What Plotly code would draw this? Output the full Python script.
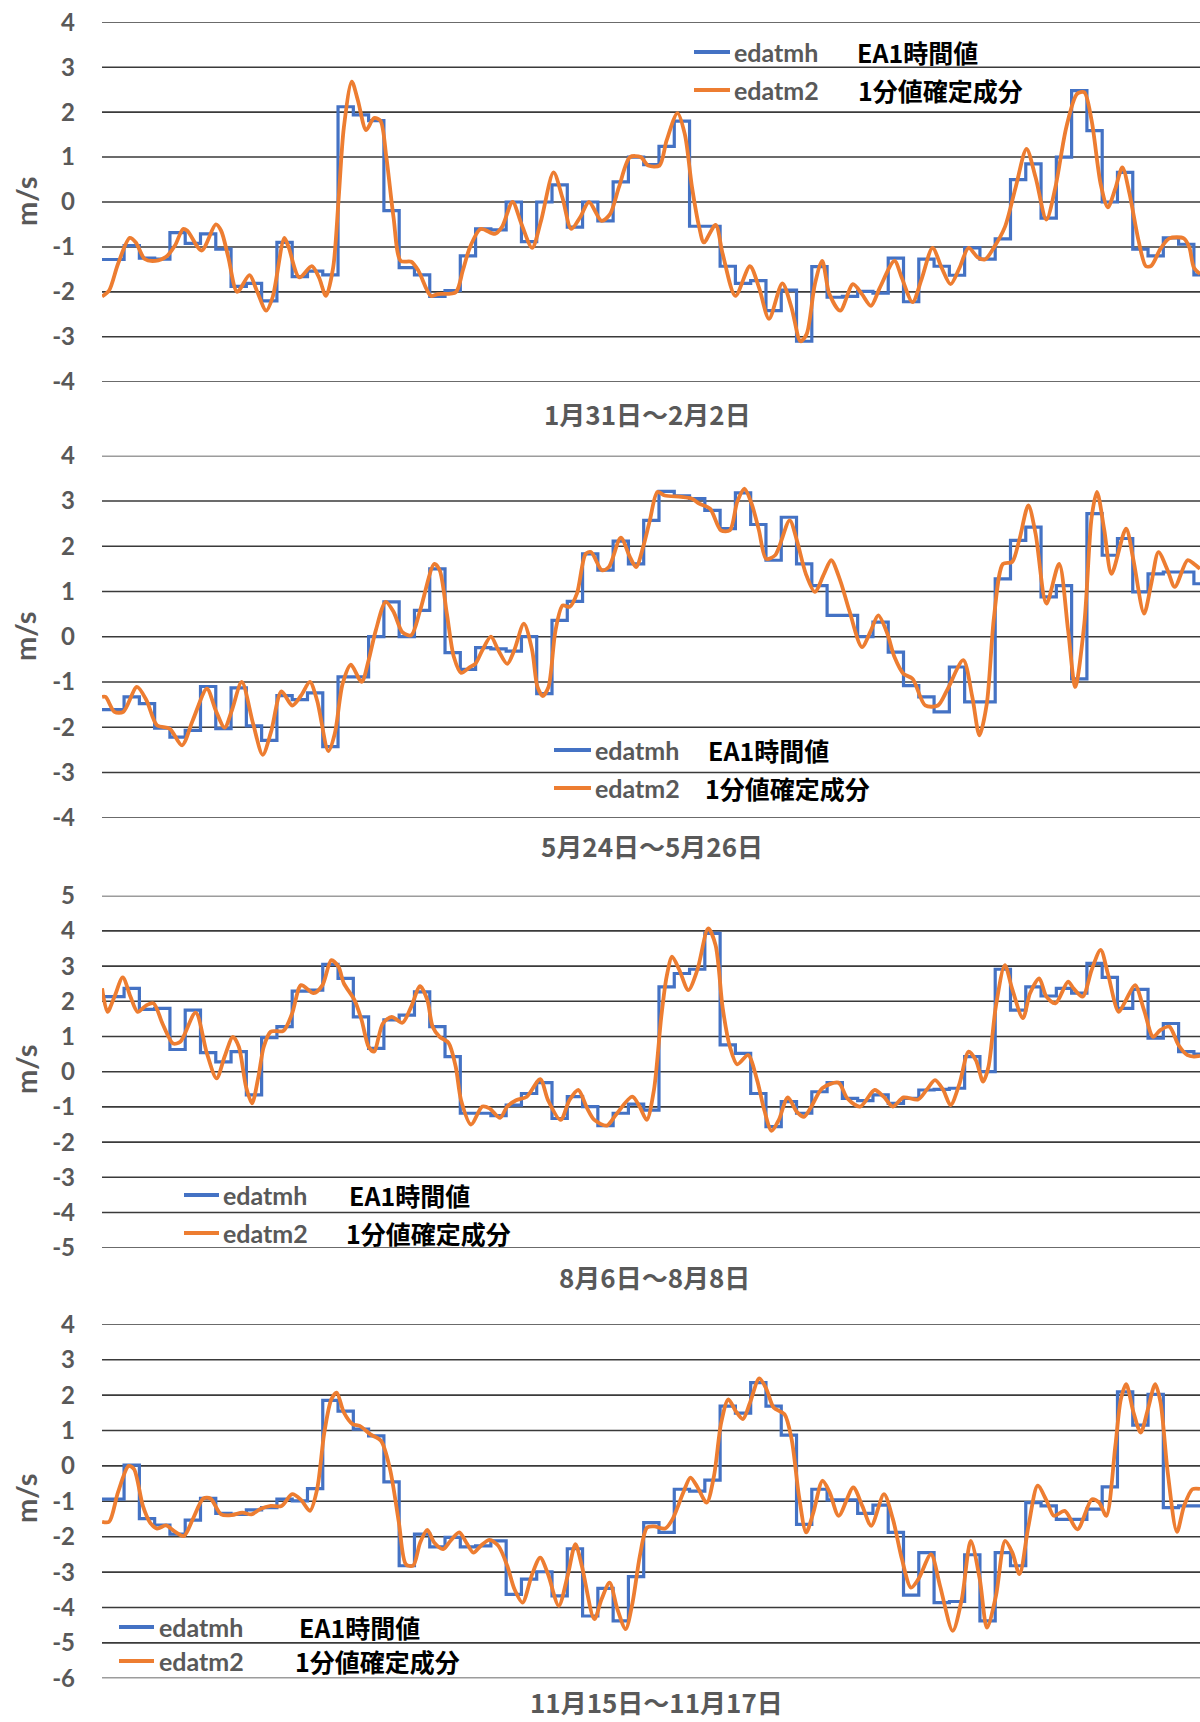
import plotly.graph_objects as go

W, H = 1200, 1722
T_START, T_END = 0.555, 72.4  # visible time window, hours

# ---------------- hourly values (EA1時間値), one per hour k = 0..72 ----------------
hourly_jan = [-1.28, -1.28, -0.97, -1.25, -1.27, -0.68, -0.92, -0.71, -1.05, -1.88,
              -1.81, -2.2, -0.9, -1.66, -1.54, -1.62, 2.12, 1.94, 1.81, -0.19,
              -1.46, -1.62, -2.1, -1.97, -1.2, -0.6, -0.62, 0.0, -0.88, 0.0,
              0.38, -0.56, 0.0, -0.42, 0.45, 1.0, 0.83, 1.24, 1.8, -0.54,
              -0.54, -1.43, -1.81, -1.75, -2.42, -1.96, -3.1, -1.44, -2.12, -2.1,
              -1.99, -2.03, -1.25, -2.22, -1.27, -1.43, -1.63, -1.02, -1.27, -0.82,
              0.5, 0.85, -0.36, 1.0, 2.48, 1.59, 0.0, 0.66, -1.05, -1.2,
              -0.8, -0.94, -1.62]
hourly_may = [-1.61, -1.61, -1.33, -1.48, -2.02, -2.22, -2.07, -1.1, -2.03, -1.13,
              -1.97, -2.29, -1.3, -1.39, -1.24, -2.43, -0.89, -0.89, 0.0, 0.77,
              0.0, 0.58, 1.5, -0.35, -0.72, -0.24, -0.27, -0.32, 0.0, -1.26,
              0.36, 0.78, 1.83, 1.47, 2.11, 1.61, 2.57, 3.21, 3.11, 3.05,
              2.79, 2.39, 3.18, 2.48, 1.69, 2.64, 1.61, 1.13, 0.47, 0.47,
              0.0, 0.32, -0.34, -1.08, -1.33, -1.66, -0.67, -1.44, -1.44, 1.28,
              2.13, 2.42, 0.88, 1.13, -0.93, 2.72, 1.8, 2.17, 0.99, 1.39,
              1.43, 1.43, 1.17]
hourly_aug = [2.13, 2.13, 2.37, 1.77, 1.8, 0.63, 1.75, 0.54, 0.28, 0.57,
              -0.66, 0.97, 1.28, 2.29, 2.32, 3.05, 2.65, 1.56, 0.66, 1.47,
              1.61, 2.27, 1.28, 0.43, -1.18, -1.18, -1.25, -0.95, -0.62, -0.31,
              -1.33, -0.71, -0.99, -1.53, -1.18, -0.92, -1.09, 2.41, 2.79, 2.91,
              3.93, 0.76, 0.52, -0.62, -1.56, -0.85, -1.18, -0.57, -0.31, -0.76,
              -0.82, -0.66, -0.9, -0.76, -0.52, -0.5, -0.47, 0.43, 0.0, 2.91,
              1.75, 2.41, 2.15, 2.37, 2.23, 3.08, 2.68, 1.8, 2.34, 0.95,
              1.37, 0.57, 0.5]
hourly_nov = [-0.94, -0.94, 0.02, -1.49, -1.67, -1.93, -1.53, -0.92, -1.34, -1.37,
              -1.24, -1.18, -0.94, -0.99, -0.64, 1.85, 1.55, 1.04, 0.85, -0.45,
              -2.82, -1.93, -2.29, -2.02, -2.29, -2.26, -2.12, -3.63, -3.2, -2.99,
              -3.67, -2.34, -4.24, -3.46, -4.38, -3.13, -1.6, -1.88, -0.66, -0.71,
              -0.4, 1.69, 1.49, 2.35, 1.69, 0.87, -1.65, -0.66, -0.96, -0.96,
              -1.34, -1.11, -1.88, -3.65, -2.45, -3.86, -3.83, -2.51, -4.38, -2.45,
              -2.82, -1.04, -1.13, -1.51, -1.51, -1.22, -0.59, 2.09, 1.15, 2.02,
              -1.18, -1.13, -1.13]

# ---------------- 1-minute confirmed component (1分値確定成分) ----------------
minute_t_jan = [0.56, 1.02, 1.6, 2.37, 2.77, 3.35, 4.05, 4.75, 5.33, 5.86, 6.14, 7.07, 8.0, 8.35,
                8.82, 9.4, 10.21, 10.68, 11.3, 11.72, 12.49, 12.77, 13.47, 14.28, 14.75, 15.21,
                15.68, 16.03, 16.38, 16.9, 17.3, 17.84, 18.35, 18.77, 19.16, 19.63, 20.1, 20.79,
                21.26, 22.07, 22.54, 23.7, 24.16, 24.63, 25.33, 26.26, 26.72, 27.42, 28.0, 28.7,
                29.28, 30.1, 30.68, 31.26, 31.84, 32.42, 33.24, 33.8, 34.38, 35.1, 35.8, 36.3,
                37.03, 37.5, 38.21, 38.69, 39.16, 39.63, 39.94, 40.7, 41.17, 42.0, 42.95, 43.54,
                44.2, 45.07, 45.67, 46.26, 46.66, 47.2, 47.68, 48.15, 48.86, 49.69, 50.28, 50.87,
                51.46, 52.41, 52.88, 53.59, 54.19, 54.9, 55.49, 56.08, 56.67, 57.26, 57.85, 58.33,
                58.92, 59.63, 60.34, 61.05, 61.64, 62.35, 62.94, 63.65, 64.36, 64.83, 65.31, 65.9,
                66.37, 66.85, 67.32, 67.79, 68.38, 68.86, 69.21, 69.8, 70.39, 71.34, 71.7, 72.0, 72.4]
minute_v_jan = [-2.1, -1.97, -1.38, -0.8, -0.9, -1.27, -1.31, -1.22, -0.97, -0.6, -0.64, -1.08, -0.5, -0.64,
                -1.23, -2.0, -1.63, -1.97, -2.42, -2.12, -0.8, -1.01, -1.68, -1.43, -1.68, -2.09,
                -1.46, 0.03, 1.66, 2.68, 2.26, 1.6, 1.87, 1.81, 1.0, -0.34, -1.31, -1.33,
                -1.53, -2.09, -2.05, -2.01, -1.53, -1.01, -0.6, -0.71, -0.56, 0.0, -0.49, -1.02,
                -0.42, 0.66, 0.1, -0.6, -0.34, 0.0, -0.42, -0.27, 0.33, 1.0, 1.0, 0.81,
                0.81, 1.37, 1.98, 1.51, 0.33, -0.56, -0.9, -0.51, -1.16, -2.09, -1.43, -1.9,
                -2.6, -1.81, -2.35, -3.1, -2.94, -1.83, -1.31, -2.05, -2.42, -1.83, -2.05, -2.31,
                -1.9, -1.31, -1.68, -2.23, -1.71, -1.02, -1.46, -1.83, -1.46, -1.02, -1.23, -1.28,
                -1.01, -0.56, 0.33, 1.18, 0.55, -0.39, 0.33, 1.66, 2.41, 2.44, 1.81, 0.4,
                -0.12, 0.29, 0.77, 0.18, -0.86, -1.43, -1.42, -1.05, -0.81, -0.81, -1.01, -1.46, -1.6]

minute_t_may = [0.56, 0.79, 1.37, 1.95, 2.84, 3.47, 4.16, 4.98, 5.79, 6.49, 7.42, 8.0, 8.58, 9.05,
                9.7, 10.44, 11.07, 11.61, 12.3, 13.0, 13.58, 14.16, 14.63, 15.37, 15.79, 16.3,
                16.84, 17.54, 18.0, 18.47, 19.12, 19.63, 20.21, 20.79, 21.37, 22.3, 22.65, 23.12,
                23.58, 24.05, 24.63, 24.98, 25.44, 26.0, 26.49, 27.07, 27.53, 28.16, 28.7, 29.05,
                29.4, 29.77, 30.23, 30.7, 31.16, 31.63, 32.2, 32.55, 33.26, 33.72, 34.5, 35.1,
                35.5, 35.96, 36.4, 36.9, 37.38, 38.45, 39.16, 39.63, 40.34, 41.05, 41.64, 42.12,
                42.59, 43.06, 43.54, 44.01, 44.6, 45.55, 46.02, 46.61, 47.2, 47.8, 48.27, 48.86,
                49.45, 50.28, 50.87, 51.35, 51.94, 52.41, 53.0, 53.59, 54.42, 55.25, 55.84, 56.91,
                57.5, 57.97, 58.45, 58.92, 59.51, 60.1, 60.57, 61.17, 61.64, 62.35, 63.18, 63.77,
                64.24, 64.83, 65.31, 65.66, 66.14, 66.61, 67.56, 68.03, 68.74, 69.21, 69.68, 70.28,
                70.75, 71.58, 72.0, 72.4]
minute_v_may = [-1.33, -1.33, -1.66, -1.66, -1.11, -1.41, -1.96, -2.03, -2.4, -1.85, -1.15, -1.63, -2.01, -1.63,
                -1.0, -1.92, -2.61, -2.11, -1.21, -1.52, -1.3, -1.0, -1.41, -2.53, -2.14, -1.04,
                -0.62, -1.0, -0.52, 0.14, 0.77, 0.55, 0.1, 0.03, 0.58, 1.61, 1.47, 0.51,
                -0.45, -0.8, -0.67, -0.6, -0.3, 0.0, -0.3, -0.6, -0.3, 0.29, -0.3, -1.11,
                -1.31, -1.11, 0.14, 0.69, 0.66, 0.95, 1.83, 1.87, 1.47, 1.54, 2.19, 1.76,
                1.54, 1.98, 2.57, 3.2, 3.12, 3.09, 3.05, 2.94, 2.83, 2.35, 2.35, 2.98,
                3.27, 2.94, 2.35, 1.72, 1.8, 2.57, 2.13, 1.39, 0.99, 1.39, 1.69, 1.24,
                0.58, -0.23, 0.14, 0.47, 0.07, -0.45, -0.82, -0.93, -1.52, -1.52, -1.19, -0.52,
                -1.33, -2.18, -1.48, 0.43, 1.61, 1.65, 2.13, 2.9, 2.28, 0.73, 1.61, 0.14,
                -1.11, 0.29, 2.64, 3.2, 2.35, 1.39, 2.39, 1.72, 0.51, 1.17, 1.87, 1.47,
                1.1, 1.69, 1.61, 1.5]

minute_t_aug = [0.56, 0.91, 1.37, 1.91, 2.42, 2.89, 3.47, 3.93, 4.51, 5.21, 5.68, 6.68, 7.42, 8.05,
                8.58, 9.12, 9.51, 9.98, 10.37, 10.79, 11.14, 11.6, 12.42, 13.0, 13.58, 14.4,
                14.98, 15.56, 16.03, 16.38, 17.07, 17.54, 18.0, 18.35, 18.93, 19.51, 20.21, 20.79,
                21.37, 21.84, 22.19, 22.65, 23.23, 23.7, 24.05, 24.7, 25.44, 25.91, 26.6, 27.07,
                27.65, 28.35, 29.23, 29.74, 30.56, 31.14, 31.72, 32.3, 32.77, 33.59, 34.17, 35.25,
                35.73, 36.2, 36.67, 37.15, 37.5, 37.86, 38.33, 38.92, 39.51, 40.22, 40.7, 41.17,
                41.64, 42.12, 42.83, 43.42, 43.89, 44.37, 44.84, 45.43, 46.02, 46.49, 46.97, 47.68,
                48.74, 49.33, 50.16, 51.11, 51.7, 52.29, 53.0, 53.95, 54.54, 55.06, 55.6, 56.08,
                56.67, 57.26, 57.73, 58.21, 58.56, 59.04, 59.63, 60.1, 60.81, 61.28, 61.88, 62.35,
                62.94, 63.77, 64.12, 64.72, 65.31, 65.9, 66.37, 67.08, 67.56, 68.15, 68.74, 69.33,
                69.8, 70.39, 70.99, 71.58, 72.0, 72.4]
minute_v_aug = [2.37, 1.7, 2.13, 2.68, 2.13, 1.7, 1.89, 1.94, 1.37, 0.8, 0.85, 1.68, 0.52, -0.19,
                0.43, 0.99, 0.71, -0.43, -0.9, -0.14, 0.71, 1.14, 1.16, 1.66, 2.46, 2.23,
                2.46, 3.17, 2.98, 2.51, 2.04, 1.47, 0.71, 0.57, 1.37, 1.56, 1.39, 1.85,
                2.43, 2.04, 1.28, 0.99, 0.82, 0.14, -0.81, -1.5, -0.99, -1.04, -1.31, -0.99,
                -0.81, -0.71, -0.21, -0.81, -1.37, -0.81, -0.52, -1.04, -1.37, -1.53, -1.23, -0.71,
                -0.99, -1.37, -0.52, 1.56, 2.7, 3.27, 2.89, 2.32, 2.89, 4.07, 3.6, 1.8,
                0.71, 0.21, 0.47, -0.24, -1.09, -1.68, -1.37, -0.73, -1.14, -1.28, -0.99, -0.47,
                -0.31, -0.76, -0.99, -0.52, -0.71, -0.99, -0.73, -0.79, -0.5, -0.24, -0.52, -0.95,
                -0.33, 0.57, 0.33, -0.28, 0.14, 1.85, 3.03, 2.37, 1.52, 2.23, 2.65, 2.13,
                1.94, 2.56, 2.37, 2.13, 2.89, 3.46, 2.79, 1.7, 2.04, 2.46, 1.75, 0.99,
                1.18, 1.28, 0.76, 0.47, 0.43, 0.45]

minute_t_nov = [0.56, 1.02, 1.6, 2.3, 2.65, 3.23, 3.7, 4.16, 4.75, 5.33, 5.91, 6.49, 7.19, 7.65,
                8.35, 9.05, 9.74, 10.33, 10.91, 11.6, 12.3, 13.0, 13.58, 14.16, 14.63, 15.1,
                15.56, 15.91, 16.38, 16.95, 17.42, 18.12, 18.81, 19.4, 19.98, 20.44, 20.91, 21.37,
                21.84, 22.3, 22.88, 23.35, 23.93, 24.4, 24.86, 25.33, 25.91, 26.49, 27.07, 27.54,
                28.07, 28.7, 29.23, 29.74, 30.44, 31.02, 31.53, 31.95, 32.77, 33.24, 33.77, 34.28,
                34.82, 35.27, 35.75, 36.22, 36.69, 37.4, 37.88, 38.59, 39.06, 39.53, 40.12, 40.6,
                41.07, 41.54, 42.02, 42.49, 42.96, 43.56, 44.03, 44.5, 45.21, 45.68, 46.16, 46.63,
                47.1, 47.7, 48.17, 48.76, 49.71, 50.3, 50.89, 51.72, 52.31, 52.9, 53.49, 53.97,
                54.8, 55.39, 56.22, 56.81, 57.4, 57.99, 58.46, 59.05, 59.65, 60.12, 60.59, 61.18,
                61.78, 62.37, 62.84, 63.55, 64.38, 65.33, 65.8, 66.27, 66.86, 67.22, 67.57, 68.05,
                68.52, 68.99, 69.47, 69.82, 70.29, 70.89, 71.36, 71.9, 72.4]
minute_v_nov = [-1.58, -1.58, -0.75, 0.0, -0.09, -1.13, -1.6, -1.77, -1.68, -1.86, -1.98, -1.51, -0.92, -0.92,
                -1.37, -1.39, -1.32, -1.37, -1.22, -1.13, -1.13, -0.8, -0.96, -1.27, -0.66, 0.94,
                1.88, 2.07, 1.51, 1.18, 1.13, 0.89, 0.71, -0.09, -1.6, -2.78, -2.82, -2.17,
                -1.81, -2.17, -2.35, -2.12, -1.88, -2.17, -2.45, -2.26, -2.09, -2.26, -2.82, -3.48,
                -3.86, -3.06, -2.59, -3.06, -3.95, -3.11, -2.21, -2.82, -4.33, -3.77, -3.3, -4.05,
                -4.61, -3.86, -2.54, -1.74, -1.71, -1.77, -1.51, -0.75, -0.33, -0.61, -1.04, -0.28,
                1.22, 1.88, 1.55, 1.32, 1.79, 2.47, 2.17, 1.65, 1.46, 0.75, -0.85, -1.88,
                -1.32, -0.42, -0.75, -1.41, -0.61, -1.13, -1.69, -0.8, -1.51, -2.64, -3.44, -3.2,
                -2.5, -3.39, -4.66, -3.77, -2.12, -3.2, -4.57, -3.67, -2.12, -2.45, -3.06, -1.69,
                -0.56, -0.99, -1.41, -1.27, -1.79, -0.94, -1.04, -1.41, 0.56, 1.88, 2.31, 1.51,
                0.94, 1.6, 2.31, 1.79, -0.19, -1.86, -1.13, -0.66, -0.65]

panel_titles = ["1月31日～2月2日", "5月24日～5月26日", "8月6日～8月8日", "11月15日～11月17日"]
series_names = ["edatmh", "edatm2"]
series_labels = ["EA1時間値", "1分値確定成分"]

# ---------------- layout of the four panels (pixel positions on the page) ----------------
panels = [
    dict(hourly=hourly_jan, mt=minute_t_jan, mv=minute_v_jan, vmin=-4, vmax=4,
         top=22.3, bottom=381.7, title_xy=(647, 413), unit_y=202,
         leg_line=(694, 730), leg_rows=(52, 90), leg_name_x=732, leg_lab_x=(855, 856)),
    dict(hourly=hourly_may, mt=minute_t_may, mv=minute_v_may, vmin=-4, vmax=4,
         top=455.7, bottom=817.7, title_xy=(652, 846), unit_y=637,
         leg_line=(554, 591), leg_rows=(750, 788), leg_name_x=593, leg_lab_x=(706, 703)),
    dict(hourly=hourly_aug, mt=minute_t_aug, mv=minute_v_aug, vmin=-5, vmax=5,
         top=895.7, bottom=1247.7, title_xy=(654, 1276), unit_y=1070,
         leg_line=(184, 219), leg_rows=(1195, 1233), leg_name_x=221, leg_lab_x=(347, 344)),
    dict(hourly=hourly_nov, mt=minute_t_nov, mv=minute_v_nov, vmin=-6, vmax=4,
         top=1324.3, bottom=1678.3, title_xy=(656, 1701), unit_y=1499,
         leg_line=(119, 154), leg_rows=(1627, 1661), leg_name_x=157, leg_lab_x=(297, 293)),
]

BLUE = "#4472C4"
ORANGE = "#ED7D31"
GRID = "#3a3a3a"
GRAY_TEXT = "#595959"
LATIN = "Lato, 'Open Sans', sans-serif"
CJK = "'Noto Sans CJK JP', 'Noto Sans', sans-serif"
PLOT_LEFT = 102


def px(x):
    return x / W


def py(y):
    return 1 - y / H


fig = go.Figure()
annotations = []
shapes = []

for i, p in enumerate(panels):
    n = i + 1
    xa = "x" if n == 1 else f"x{n}"
    ya = "y" if n == 1 else f"y{n}"

    hx = list(range(len(p["hourly"]))) + [T_END]
    hy = list(p["hourly"]) + [p["hourly"][-1]]
    fig.add_trace(go.Scatter(x=hx, y=hy, mode="lines", line=dict(color=BLUE, width=3.2, shape="hv"),
                             xaxis=xa, yaxis=ya, showlegend=False, hoverinfo="skip"))
    fig.add_trace(go.Scatter(x=p["mt"], y=p["mv"], mode="lines",
                             line=dict(color=ORANGE, width=3.8, shape="spline", smoothing=0.8),
                             xaxis=xa, yaxis=ya, showlegend=False, hoverinfo="skip"))

    xkey = "xaxis" if n == 1 else f"xaxis{n}"
    ykey = "yaxis" if n == 1 else f"yaxis{n}"
    ticks = list(range(p["vmin"], p["vmax"] + 1))
    fig.update_layout({
        xkey: dict(domain=[px(PLOT_LEFT), 1.0], range=[T_START, T_END], anchor=ya,
                   showgrid=False, zeroline=False, showline=False, showticklabels=False, ticks=""),
        ykey: dict(domain=[py(p["bottom"]), py(p["top"])], range=[p["vmin"], p["vmax"]],
                   anchor=xa, tickvals=ticks, ticktext=[str(t) for t in ticks],
                   showgrid=False, zeroline=False, showline=False,
                   ticks="", ticklabelstandoff=26,
                   tickfont=dict(family=LATIN, size=24, color=GRAY_TEXT, weight="bold")),
    })

    # horizontal grid lines at every unit, including the top and bottom of the range
    for t in ticks:
        shapes.append(dict(type="line", xref="paper", yref=ya, x0=px(PLOT_LEFT), x1=1.0,
                           y0=t, y1=t, layer="below", line=dict(color=GRID, width=1.6)))

    # unit label and period title
    annotations.append(dict(x=px(25), y=py(p["unit_y"]), xref="paper", yref="paper", text="m/s",
                            textangle=-90, showarrow=False, xanchor="center", yanchor="middle",
                            font=dict(family=LATIN, size=29, color=GRAY_TEXT, weight="bold")))
    annotations.append(dict(x=px(p["title_xy"][0]), y=py(p["title_xy"][1]), xref="paper", yref="paper",
                            text=panel_titles[i], showarrow=False, xanchor="center", yanchor="middle",
                            font=dict(family=CJK, size=26, color=GRAY_TEXT, weight="bold")))

    # legend: line sample, series name, description
    for r, (row_y, color) in enumerate(zip(p["leg_rows"], [BLUE, ORANGE])):
        shapes.append(dict(type="line", xref="paper", yref="paper",
                           x0=px(p["leg_line"][0]), x1=px(p["leg_line"][1]),
                           y0=py(row_y), y1=py(row_y), line=dict(color=color, width=3.8)))
        annotations.append(dict(x=px(p["leg_name_x"]), y=py(row_y), xref="paper", yref="paper",
                                text=series_names[r], showarrow=False, xanchor="left", yanchor="middle",
                                font=dict(family=LATIN, size=25, color=GRAY_TEXT, weight="bold")))
        annotations.append(dict(x=px(p["leg_lab_x"][r]), y=py(row_y), xref="paper", yref="paper",
                                text=series_labels[r], showarrow=False, xanchor="left", yanchor="middle",
                                font=dict(family=CJK, size=25, color="#000000", weight="bold")))

fig.update_layout(width=W, height=H, margin=dict(l=0, r=0, t=0, b=0, pad=0, autoexpand=False),
                  paper_bgcolor="white", plot_bgcolor="white",
                  annotations=annotations, shapes=shapes, showlegend=False)

fig.write_html("out.html")
